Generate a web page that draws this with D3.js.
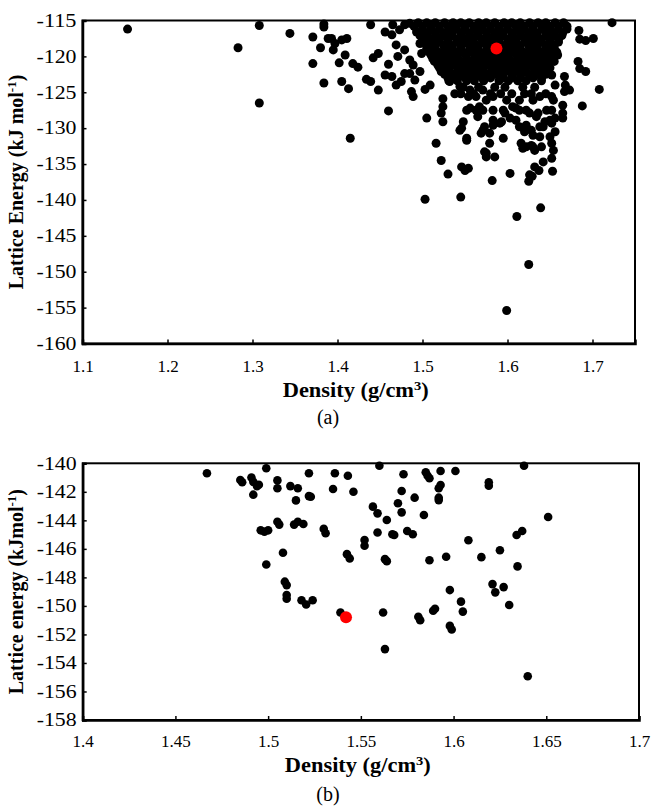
<!DOCTYPE html>
<html>
<head>
<meta charset="utf-8">
<script src="https://cdn.jsdelivr.net/npm/d3@7"></script>
<style>
  body { margin: 0; background: #fff; }
  svg { display: block; }
  text { font-family: "Liberation Serif", "Times New Roman", serif; }
</style>
</head>
<body>
<svg id="drawing_region"></svg>
<script>
// ---- (a) values: [density, lattice energy] ----
const scatterA = [
    [1.153,-116.2],[1.283,-118.8],[1.308,-115.7],[1.308,-126.5],[1.344,-116.8],[1.371,-117.3],[1.380,-118.8],[1.371,-121.0],
    [1.384,-123.7],[1.384,-115.5],[1.384,-115.9],[1.389,-117.5],[1.393,-117.5],[1.397,-118.2],[1.395,-119.1],[1.405,-117.7],
    [1.411,-117.5],[1.409,-119.8],[1.402,-120.9],[1.418,-121.0],[1.424,-121.5],[1.405,-123.5],[1.413,-124.5],[1.434,-123.2],
    [1.439,-123.5],[1.448,-124.7],[1.415,-131.4],[1.439,-115.6],[1.442,-120.2],[1.448,-119.6],[1.456,-116.6],[1.464,-117.0],
    [1.465,-115.6],[1.460,-121.1],[1.456,-122.6],[1.464,-122.8],[1.460,-127.6],[1.469,-118.4],[1.471,-120.0],[1.473,-116.3],
    [1.479,-115.6],[1.479,-119.1],[1.485,-120.5],[1.489,-121.2],[1.479,-122.4],[1.469,-124.0],[1.475,-123.5],[1.485,-122.4],
    [1.491,-123.3],[1.487,-124.9],[1.489,-125.6],[1.505,-128.6],[1.503,-124.6],[1.509,-124.0],[1.485,-115.4],[1.493,-116.6],
    [1.497,-118.2],[1.499,-119.6],[1.497,-122.1],[1.524,-125.9],[1.524,-127.0],[1.522,-127.9],[1.524,-129.1],[1.516,-132.1],
    [1.522,-134.5],[1.530,-136.4],[1.546,-135.4],[1.554,-135.6],[1.548,-129.1],[1.546,-130.0],[1.552,-131.4],[1.556,-127.2],
    [1.563,-127.5],[1.565,-128.4],[1.571,-130.3],[1.573,-133.3],[1.575,-134.0],[1.556,-124.7],[1.563,-125.6],[1.571,-124.7],
    [1.538,-125.2],[1.544,-124.2],[1.532,-123.5],[1.503,-139.9],[1.545,-139.6],[1.611,-142.3],[1.639,-141.1],[1.625,-149.0],
    [1.599,-155.4],[1.582,-137.3],[1.603,-136.3],[1.625,-137.4],[1.629,-136.7],[1.637,-135.9],[1.653,-136.0],[1.550,-135.9],
    [1.723,-115.3],[1.684,-116.4],[1.692,-117.8],[1.701,-117.5],[1.685,-117.6],[1.683,-120.7],[1.685,-121.7],[1.692,-122.1],
    [1.708,-124.6],[1.688,-126.9],[1.667,-122.8],[1.668,-124.0],[1.673,-124.7],[1.667,-124.9],[1.665,-126.8],[1.665,-127.9],
    [1.665,-128.6],[1.652,-122.6],[1.656,-124.0],[1.652,-125.6],[1.654,-126.1],[1.652,-127.5],[1.656,-128.6],[1.652,-129.3],
    [1.656,-130.5],[1.650,-131.2],[1.652,-132.1],[1.654,-133.1],[1.652,-134.2],[1.642,-134.7],[1.632,-135.4],[1.626,-136.5],
    [1.585,-134.0],[1.575,-133.5],[1.595,-131.4],[1.579,-132.1],[1.616,-132.1],[1.618,-132.8],[1.628,-132.4],[1.632,-133.1],
    [1.640,-132.6],[1.622,-129.6],[1.628,-130.3],[1.630,-131.0],[1.638,-129.8],[1.644,-129.1],[1.646,-127.5],[1.636,-127.9],
    [1.626,-127.9],[1.614,-127.5],[1.606,-127.0],[1.595,-127.5],[1.583,-128.9],[1.573,-129.8],[1.569,-130.7],[1.571,-127.5],
    [1.591,-129.3],[1.603,-128.6],[1.610,-128.9],[1.544,-130.3],[1.552,-131.7],[1.554,-125.6],[1.552,-127.5],[1.567,-127.0],
    [1.575,-126.1],[1.583,-125.6],[1.599,-126.1],[1.614,-126.1],[1.630,-126.1],[1.638,-125.6],[1.583,-127.5],[1.597,-127.9],
    [1.610,-127.2],[1.622,-127.5],[1.634,-128.4],[1.583,-129.6],[1.593,-129.1],[1.579,-130.7],[1.614,-129.8],[1.620,-130.5],
    [1.622,-132.6],[1.630,-132.6],[1.638,-131.2],[1.642,-129.8],[1.650,-128.9]
];

// dense core of (a): one row of densities per energy level
const coreEnergyA = [
    -115.3, -115.8, -116.2, -116.7, -117.1, -117.6, -118.0, -118.5, -118.9, -119.4,
    -119.8, -120.3, -120.7, -121.2, -121.6, -122.1, -122.5, -123.0, -123.4, -124.3, -125.2
];
const coreDensityA = [
    [1.495,1.505,1.515,1.526,1.536,1.545,1.555,1.566,1.575,1.585,1.596,1.605,1.615,1.626,1.636,1.645,1.656,1.666],
    [1.490,1.500,1.510,1.520,1.530,1.540,1.550,1.560,1.570,1.580,1.590,1.600,1.610,1.620,1.630,1.640,1.650,1.660,1.670],
    [1.500,1.510,1.520,1.531,1.540,1.550,1.561,1.570,1.580,1.590,1.600,1.611,1.620,1.630,1.641,1.650,1.660,1.670],
    [1.497,1.505,1.515,1.525,1.535,1.545,1.555,1.565,1.575,1.585,1.595,1.605,1.615,1.625,1.635,1.645,1.655,1.665],
    [1.497,1.506,1.516,1.525,1.535,1.546,1.556,1.565,1.576,1.586,1.595,1.606,1.616,1.625,1.635,1.646,1.655,1.664],
    [1.500,1.510,1.520,1.530,1.540,1.550,1.560,1.570,1.580,1.590,1.600,1.610,1.620,1.630,1.640,1.650,1.660],
    [1.501,1.511,1.520,1.530,1.541,1.551,1.560,1.571,1.581,1.590,1.601,1.610,1.621,1.631,1.640,1.650,1.660],
    [1.505,1.515,1.525,1.535,1.545,1.555,1.565,1.575,1.585,1.595,1.605,1.615,1.625,1.635,1.645,1.655],
    [1.505,1.515,1.526,1.535,1.545,1.556,1.565,1.576,1.586,1.596,1.605,1.615,1.626,1.635,1.645,1.655],
    [1.508,1.518,1.528,1.538,1.548,1.558,1.568,1.578,1.588,1.598,1.608,1.618,1.628,1.638,1.648,1.658],
    [1.510,1.520,1.530,1.540,1.551,1.561,1.570,1.580,1.590,1.600,1.611,1.620,1.630,1.640,1.650,1.659],
    [1.512,1.522,1.532,1.542,1.552,1.562,1.572,1.582,1.592,1.602,1.612,1.622,1.632,1.642,1.652],
    [1.514,1.525,1.535,1.545,1.555,1.566,1.575,1.585,1.596,1.605,1.615,1.625,1.636,1.645,1.655],
    [1.518,1.528,1.538,1.548,1.558,1.568,1.578,1.588,1.598,1.608,1.618,1.628,1.638,1.648],
    [1.520,1.530,1.541,1.550,1.560,1.570,1.581,1.591,1.600,1.610,1.620,1.631,1.640,1.650],
    [1.522,1.532,1.542,1.552,1.562,1.572,1.582,1.592,1.602,1.612,1.622,1.632,1.642],
    [1.526,1.535,1.545,1.556,1.565,1.575,1.586,1.595,1.606,1.616,1.625,1.635,1.645],
    [1.530,1.540,1.550,1.560,1.570,1.580,1.595,1.605,1.615,1.630,1.640],
    [1.531,1.541,1.552,1.561,1.572,1.590,1.601,1.612,1.622,1.640],
    [1.548,1.566,1.585,1.597,1.618,1.632],
    [1.545,1.560,1.580,1.592,1.605,1.620,1.628,1.645]
];
const highlightA = [1.587, -118.9];

// ---- (b) values ----
const scatterB = [
    [1.467,-140.7],[1.499,-140.35],[1.485,-141.17],[1.486,-141.33],[1.491,-141.0],[1.492,-141.3],[1.495,-141.5],[1.494,-141.6],
    [1.492,-142.2],[1.505,-141.2],[1.505,-141.75],[1.512,-141.6],[1.516,-141.75],[1.515,-142.6],[1.522,-140.7],[1.522,-142.3],
    [1.523,-142.35],[1.536,-140.7],[1.543,-140.87],[1.535,-141.8],[1.546,-142.0],[1.496,-144.7],[1.498,-144.8],[1.500,-144.7],
    [1.505,-144.1],[1.506,-144.3],[1.514,-144.3],[1.516,-144.1],[1.519,-144.26],[1.530,-144.6],[1.531,-144.9],[1.508,-146.27],
    [1.499,-147.1],[1.5425,-146.37],[1.544,-146.67],[1.509,-148.3],[1.510,-148.54],[1.510,-149.24],[1.510,-149.5],[1.518,-149.6],
    [1.5205,-149.9],[1.524,-149.6],[1.539,-150.46],[1.562,-150.46],[1.563,-153.03],[1.581,-150.76],[1.582,-151.0],[1.589,-150.34],
    [1.590,-150.2],[1.598,-151.4],[1.599,-151.65],[1.604,-149.7],[1.605,-150.4],[1.630,-149.94],[1.640,-154.93],[1.560,-140.17],
    [1.573,-140.77],[1.585,-140.63],[1.587,-141.05],[1.586,-140.87],[1.593,-140.54],[1.601,-140.54],[1.638,-140.17],[1.619,-141.33],
    [1.619,-141.57],[1.593,-141.52],[1.592,-141.75],[1.572,-141.94],[1.570,-142.8],[1.572,-143.44],[1.579,-142.41],[1.592,-142.41],
    [1.592,-142.58],[1.584,-143.63],[1.5565,-143.04],[1.559,-143.51],[1.564,-143.98],[1.559,-144.85],[1.567,-144.98],[1.568,-145.03],
    [1.575,-144.75],[1.578,-144.98],[1.552,-145.38],[1.552,-145.78],[1.563,-146.72],[1.564,-146.86],[1.587,-146.8],[1.596,-146.55],
    [1.608,-145.4],[1.615,-146.58],[1.625,-146.1],[1.6345,-147.23],[1.634,-145.03],[1.637,-144.75],[1.651,-143.77],[1.598,-148.89],
    [1.621,-148.47],[1.6225,-149.05],[1.627,-148.68]
];
const highlightB = [1.542, -150.8];

// ---- ticks ----
const xTicksA = [1.1, 1.2, 1.3, 1.4, 1.5, 1.6, 1.7];
const xTickLabelsA = ['1.1', '1.2', '1.3', '1.4', '1.5', '1.6', '1.7'];
const yTicksA = [-115, -120, -125, -130, -135, -140, -145, -150, -155, -160];
const xTicksB = [1.4, 1.45, 1.5, 1.55, 1.6, 1.65, 1.7];
const xTickLabelsB = ['1.4', '1.45', '1.5', '1.55', '1.6', '1.65', '1.7'];
const yTicksB = [-140, -142, -144, -146, -148, -150, -152, -154, -156, -158];

const svg = d3.select('#drawing_region')
    .attr('width', 652)
    .attr('height', 809);

class ScatterPlot {
    constructor(config, data) {
        this.config = config;
        this.data = data;
        this.init();
    }

    init() {
        let self = this;
        const c = self.config;

        self.chart = svg.append('g');

        self.xscale = d3.scaleLinear().domain(c.xdomain).range([c.left, c.right]);
        self.yscale = d3.scaleLinear().domain(c.ydomain).range([c.bottom, c.top]);

        self.xaxis = d3.axisBottom(self.xscale)
            .tickValues(c.xticks)
            .tickFormat((d, i) => c.xlabels[i])
            .tickSize(-4)
            .tickPadding(c.xpad);
        self.yaxis = d3.axisLeft(self.yscale)
            .tickValues(c.yticks)
            .tickFormat(d => String(d))
            .tickSize(-4)
            .tickPadding(6);
    }

    render() {
        let self = this;
        const c = self.config;

        self.chart.append('rect')
            .attr('x', c.left)
            .attr('y', c.top)
            .attr('width', c.right - c.left)
            .attr('height', c.bottom - c.top)
            .attr('fill', 'none')
            .attr('stroke', '#000')
            .attr('stroke-width', 2);

        const xg = self.chart.append('g')
            .attr('transform', `translate(0,${c.bottom})`)
            .call(self.xaxis);
        const yg = self.chart.append('g')
            .attr('transform', `translate(${c.left},0)`)
            .call(self.yaxis);

        [xg, yg].forEach(g => {
            g.select('.domain').attr('stroke-width', 2.5);
            g.selectAll('.tick line').attr('stroke-width', 1.5);
            g.selectAll('.tick text')
                .attr('fill', '#000')
                .attr('font-size', 17);
        });
        yg.selectAll('.tick text')
            .attr('font-size', 18)
            .attr('textLength', 40)
            .attr('lengthAdjust', 'spacingAndGlyphs');

        self.chart.selectAll('circle.pt')
            .data(self.data)
            .enter()
            .append('circle')
            .attr('class', 'pt')
            .attr('cx', d => self.xscale(d[0]))
            .attr('cy', d => self.yscale(d[1]))
            .attr('r', c.r)
            .attr('fill', '#000');

        self.chart.append('circle')
            .attr('cx', self.xscale(c.highlight[0]))
            .attr('cy', self.yscale(c.highlight[1]))
            .attr('r', 6)
            .attr('fill', '#ff0000');

        // axis titles
        const xt = self.chart.append('text')
            .attr('x', (c.left + c.right) / 2 - 76)
            .attr('y', c.xtitleY)
            .attr('textLength', 146)
            .attr('lengthAdjust', 'spacingAndGlyphs')
            .attr('font-size', 20)
            .attr('font-weight', 'bold');
        xt.append('tspan').text('Density (g/cm');
        xt.append('tspan').attr('dy', -7).attr('font-size', 13).text('3');
        xt.append('tspan').attr('dy', 7).text(')');

        const yt = self.chart.append('text')
            .attr('transform', `translate(23,${(c.top + c.bottom) / 2}) rotate(-90)`)
            .attr('text-anchor', 'middle')
            .attr('font-size', 20)
            .attr('font-weight', 'bold');
        yt.append('tspan').text(c.ytitle);
        yt.append('tspan').attr('dy', -7).attr('font-size', 13).text('-1');
        yt.append('tspan').attr('dy', 7).text(')');

        self.chart.append('text')
            .attr('x', 328)
            .attr('y', c.captionY)
            .attr('text-anchor', 'middle')
            .attr('font-size', 20)
            .text(c.caption);
    }
}

const coreA = [];
coreEnergyA.forEach((e, i) => coreDensityA[i].forEach(x => coreA.push([x, e])));

const plotA = new ScatterPlot({
    left: 82.5, right: 635, top: 20.5, bottom: 343.5,
    xdomain: [1.1, 1.75], ydomain: [-160, -115],
    xticks: xTicksA, xlabels: xTickLabelsA, yticks: yTicksA, xpad: 16,
    r: 4.5, highlight: highlightA,
    ytitle: 'Lattice Energy (kJ mol', xtitleY: 397,
    caption: '(a)', captionY: 424
}, scatterA.concat(coreA));
plotA.render();

const plotB = new ScatterPlot({
    left: 82.7, right: 639, top: 463.3, bottom: 720,
    xdomain: [1.4, 1.7], ydomain: [-158, -140],
    xticks: xTicksB, xlabels: xTickLabelsB, yticks: yTicksB, xpad: 15,
    r: 4.3, highlight: highlightB,
    ytitle: 'Lattice energy (kJmol', xtitleY: 772,
    caption: '(b)', captionY: 801
}, scatterB);
plotB.render();
</script>
</body>
</html>
